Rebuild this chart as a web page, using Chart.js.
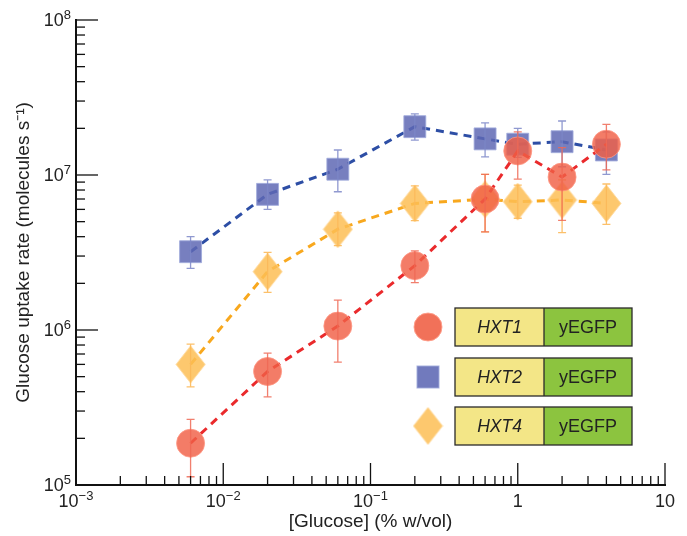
<!DOCTYPE html>
<html><head><meta charset="utf-8">
<script src="https://cdn.jsdelivr.net/npm/chart.js@4"></script>
<style>html,body{margin:0;padding:0;background:#fff}</style>
</head><body>
<canvas id="c" width="687" height="536"></canvas>
<script>
// glucose (% w/vol) and uptake rates (molecules/s), with error bar ends
const glucose=[0.006,0.02,0.06,0.2,0.6,1,2,4];
const hxt1=[1.86e5,5.4e5,1.06e6,2.6e6,7.0e6,1.43e7,9.7e6,1.58e7];
const hxt1Lo=[1.13e5,3.7e5,6.2e5,2.02e6,4.3e6,9.4e6,5.1e6,1.08e7];
const hxt1Hi=[2.65e5,7.1e5,1.56e6,3.24e6,1.01e7,1.9e7,1.5e7,2.12e7];
const hxt2=[3.2e6,7.5e6,1.09e7,2.05e7,1.71e7,1.58e7,1.64e7,1.45e7];
const hxt2Lo=[2.5e6,6.0e6,7.8e6,1.68e7,1.31e7,1.3e7,1.13e7,1.01e7];
const hxt2Hi=[4.0e6,9.3e6,1.45e7,2.48e7,2.17e7,2.0e7,2.23e7,1.9e7];
const hxt4=[6.0e5,2.38e6,4.47e6,6.56e6,6.97e6,6.73e6,6.9e6,6.56e6];
const hxt4Lo=[4.3e5,1.75e6,3.5e6,5.07e6,4.3e6,5.26e6,4.25e6,4.8e6];
const hxt4Hi=[8.1e5,3.17e6,5.7e6,8.5e6,1.01e7,8.6e6,9.3e6,8.75e6];
const xTicks=[1e-3,1e-2,1e-1,1,10];
const xTickBase=['10','10','10','1','10'];
const xTickExp=['−3','−2','−1','',''];
const yTicks=[1e5,1e6,1e7,1e8];
const yTickBase=['10','10','10','10'];
const yTickExp=['5','6','7','8'];
const genes=['HXT1','HXT2','HXT4'];
const reporter='yEGFP';

const FONT='"Liberation Sans", Arial, sans-serif';
const TXT='#222';

function diamond(w,h,fill,stroke){
  const c=document.createElement('canvas');c.width=w+2;c.height=h+2;
  const g=c.getContext('2d');
  g.beginPath();g.moveTo(c.width/2,1);g.lineTo(c.width-1,c.height/2);
  g.lineTo(c.width/2,c.height-1);g.lineTo(1,c.height/2);g.closePath();
  g.fillStyle=fill;g.fill();g.strokeStyle=stroke;g.lineWidth=1;g.stroke();
  return c;
}
const diamondImg=diamond(29,37,'rgba(253,190,85,0.85)','rgba(255,215,150,0.9)');

const pts=(ys)=>glucose.map((g,i)=>({x:g,y:ys[i]}));
const errs=[[hxt1Lo,hxt1Hi,'rgba(238,105,85,0.85)'],[hxt2Lo,hxt2Hi,'rgba(125,135,200,0.85)'],[hxt4Lo,hxt4Hi,'rgba(252,185,90,0.9)']];

const errorBars={
  id:'errorBars',
  afterDatasetDraw(chart,args){
    const e=errs[args.index];if(!e)return;
    const {ctx,scales:{x,y}}=chart;
    ctx.save();ctx.strokeStyle=e[2];ctx.lineWidth=1.3;
    glucose.forEach((g,i)=>{
      const px=x.getPixelForValue(g),lo=y.getPixelForValue(e[0][i]),hi=y.getPixelForValue(e[1][i]);
      ctx.beginPath();ctx.moveTo(px,lo);ctx.lineTo(px,hi);
      ctx.moveTo(px-4,lo);ctx.lineTo(px+4,lo);ctx.moveTo(px-4,hi);ctx.lineTo(px+4,hi);ctx.stroke();
    });
    ctx.restore();
  }
};

// inward log ticks + power-of-ten labels with superscripts
const logAxes={
  id:'logAxes',
  afterDraw(chart){
    const {ctx,scales:{x,y}}=chart;
    ctx.save();ctx.strokeStyle='#111';ctx.lineWidth=1.3;
    const ya=y.bottom, xa=x.left;
    for(let e=Math.log10(x.min);e<Math.log10(x.max);e++){
      for(let m=1;m<10;m++){
        const px=x.getPixelForValue(m*Math.pow(10,e));
        ctx.beginPath();ctx.moveTo(px,ya);ctx.lineTo(px,ya-(m===1?22:9));ctx.stroke();
      }
    }
    const pxEnd=x.getPixelForValue(x.max);
    ctx.beginPath();ctx.moveTo(pxEnd,ya);ctx.lineTo(pxEnd,ya-22);ctx.stroke();
    for(let e=Math.log10(y.min);e<Math.log10(y.max);e++){
      for(let m=1;m<10;m++){
        const py=y.getPixelForValue(m*Math.pow(10,e));
        ctx.beginPath();ctx.moveTo(xa,py);ctx.lineTo(xa+(m===1?22:9),py);ctx.stroke();
      }
    }
    const pyEnd=y.getPixelForValue(y.max);
    ctx.beginPath();ctx.moveTo(xa,pyEnd);ctx.lineTo(xa+22,pyEnd);ctx.stroke();

    ctx.fillStyle=TXT;ctx.textBaseline='middle';ctx.textAlign='left';
    const big='18px '+FONT, small='13px '+FONT;
    x.ticks.forEach((t,i)=>{
      const px=x.getPixelForValue(t.value);
      ctx.font=big;const w1=ctx.measureText(xTickBase[i]).width;
      ctx.font=small;const w2=ctx.measureText(xTickExp[i]).width;
      const x0=px-(w1+w2)/2, cy=ya+17;
      ctx.font=big;ctx.fillText(xTickBase[i],x0,cy);
      ctx.font=small;ctx.fillText(xTickExp[i],x0+w1,cy-6);
    });
    y.ticks.forEach((t,i)=>{
      const py=y.getPixelForValue(t.value);
      ctx.font=big;const w1=ctx.measureText(yTickBase[i]).width;
      ctx.font=small;const w2=ctx.measureText(yTickExp[i]).width;
      const x0=xa-5-w1-w2;
      ctx.font=big;ctx.fillText(yTickBase[i],x0,py+1);
      ctx.font=small;ctx.fillText(yTickExp[i],x0+w1,py-5);
    });
    ctx.restore();
  }
};

const geneLegend={
  id:'geneLegend',
  afterDraw(chart){
    const ctx=chart.ctx;
    const bx=455,split=544,ex=632,h=38,rows=[308,358,407],sx=428;
    ctx.save();
    rows.forEach((top,i)=>{
      const cy=top+h/2;
      if(i===0){ctx.beginPath();ctx.arc(sx,cy,14,0,Math.PI*2);ctx.fillStyle='rgba(240,105,80,0.95)';ctx.fill();ctx.strokeStyle='rgba(255,160,140,0.9)';ctx.lineWidth=1;ctx.stroke();}
      else if(i===1){ctx.fillStyle='rgba(105,115,185,0.95)';ctx.fillRect(sx-11,cy-11,22,22);ctx.strokeStyle='rgba(160,170,220,0.9)';ctx.lineWidth=1;ctx.strokeRect(sx-11,cy-11,22,22);}
      else {ctx.drawImage(diamondImg,sx-diamondImg.width/2,cy-diamondImg.height/2);}
      ctx.fillStyle='#f3e687';ctx.fillRect(bx,top,split-bx,h);
      ctx.fillStyle='#8cc43f';ctx.fillRect(split,top,ex-split,h);
      ctx.strokeStyle='#2a2a2a';ctx.lineWidth=1.3;
      ctx.strokeRect(bx,top,ex-bx,h);
      ctx.beginPath();ctx.moveTo(split,top);ctx.lineTo(split,top+h);ctx.stroke();
      ctx.fillStyle=TXT;ctx.textAlign='center';ctx.textBaseline='middle';
      ctx.font='italic 17.5px '+FONT;ctx.fillText(genes[i],(bx+split)/2,cy+1);
      ctx.font='18px '+FONT;ctx.fillText(reporter,(split+ex)/2,cy+1);
    });
    ctx.restore();
  }
};

const dash=[8,6];
new Chart(document.getElementById('c').getContext('2d'),{
  type:'scatter',
  data:{datasets:[
    {label:genes[0],data:pts(hxt1),showLine:true,borderColor:'#ea2a2c',borderWidth:3,borderDash:dash,
     pointStyle:'circle',pointRadius:14,pointBackgroundColor:'rgba(240,95,70,0.82)',pointBorderColor:'rgba(255,150,130,0.8)',pointBorderWidth:1},
    {label:genes[1],data:pts(hxt2),showLine:true,borderColor:'#2d4ea5',borderWidth:3,borderDash:dash,
     pointStyle:'rect',pointRadius:15.5,pointBackgroundColor:'rgba(95,105,180,0.85)',pointBorderColor:'rgba(160,170,220,0.85)',pointBorderWidth:1},
    {label:genes[2],data:pts(hxt4),showLine:true,borderColor:'#f8a81e',borderWidth:3,borderDash:dash,
     pointStyle:diamondImg,pointRadius:15}
  ]},
  options:{
    responsive:false,animation:false,
    layout:{padding:{left:0,right:22,top:20,bottom:0}},
    plugins:{legend:{display:false},tooltip:{enabled:false}},
    scales:{
      x:{type:'logarithmic',min:1e-3,max:10,
        afterBuildTicks:s=>{s.ticks=xTicks.map(v=>({value:v}));},
        afterFit:s=>{s.height=51;},
        grid:{display:false,drawTicks:false},
        border:{display:true,color:'#111',width:2},
        ticks:{display:false},
        title:{display:true,text:'[Glucose] (% w/vol)',color:TXT,font:{family:FONT,size:19},padding:{top:0,bottom:3}}
      },
      y:{type:'logarithmic',min:1e5,max:1e8,
        afterBuildTicks:s=>{s.ticks=yTicks.map(v=>({value:v}));},
        afterFit:s=>{s.width=76;},
        grid:{display:false,drawTicks:false},
        border:{display:true,color:'#111',width:2},
        ticks:{display:false},
        title:{display:true,text:'Glucose uptake rate (molecules s⁻¹)',color:TXT,font:{family:FONT,size:19},padding:{top:12,bottom:0}}
      }
    }
  },
  plugins:[errorBars,logAxes,geneLegend]
});
</script>
</body></html>
